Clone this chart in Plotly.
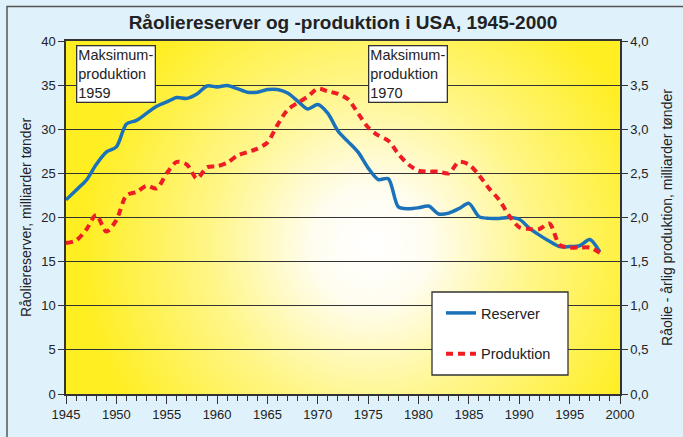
import base64
import plotly.graph_objects as go

# ---- data ----
years = list(range(1945, 1999))
reserver = [22.0, 23.1, 24.2, 26.0, 27.4, 28.0, 30.6, 31.0, 31.8, 32.6,
            33.1, 33.6, 33.5, 34.0, 34.9, 34.8, 34.95, 34.6, 34.2, 34.2,
            34.5, 34.5, 34.1, 33.2, 32.3, 32.8, 31.8, 29.8, 28.6, 27.4,
            25.6, 24.3, 24.4, 21.2, 21.0, 21.1, 21.3, 20.4, 20.5, 21.0,
            21.6, 20.1, 19.9, 19.9, 20.0, 19.8, 18.8, 18.0, 17.3, 16.7,
            16.7, 16.8, 17.5, 16.1]
produktion = [1.71, 1.74, 1.86, 2.03, 1.84, 1.97, 2.25, 2.29, 2.36, 2.33,
              2.50, 2.63, 2.60, 2.44, 2.57, 2.58, 2.62, 2.70, 2.74, 2.78,
              2.85, 3.05, 3.22, 3.30, 3.37, 3.46, 3.43, 3.40, 3.34, 3.18,
              3.02, 2.93, 2.87, 2.72, 2.60, 2.53, 2.52, 2.52, 2.50, 2.63,
              2.60, 2.48, 2.33, 2.20, 2.02, 1.89, 1.87, 1.87, 1.93, 1.69,
              1.66, 1.66, 1.66, 1.60]
x_ticks = list(range(1945, 2001, 5))
left_ticks = list(range(0, 41, 5))
right_ticks = [0, 0.5, 1, 1.5, 2, 2.5, 3, 3.5, 4]

title = "Råoliereserver og -produktion i USA, 1945-2000"
name_res = "Reserver"
name_prod = "Produktion"
ytitle_left = "Råoliereserver, milliarder tønder"
ytitle_right = "Råolie - årlig produktion, milliarder tønder"
note1 = "Maksimum-<br>produktion<br>1959"
note2 = "Maksimum-<br>produktion<br>1970"

FONT = "Liberation Sans, Arial, sans-serif"
DARK = "#333333"
BLUE = "#1a72ba"
RED = "#ee1c25"

W, H = 683, 437
ML, MR, MT, MB = 66, 63, 41, 43
PW, PH = W - ML - MR, H - MT - MB

# radial gradient background for plot area
svg = (
    f"<svg xmlns='http://www.w3.org/2000/svg' width='{PW}' height='{PH}' "
    f"viewBox='0 0 {PW} {PH}' preserveAspectRatio='none'>"
    "<defs><radialGradient id='g' cx='305' cy='205' r='290' gradientUnits='userSpaceOnUse'>"
    "<stop offset='0' stop-color='#ffffff'/>"
    "<stop offset='0.2' stop-color='#fffdf0'/>"
    "<stop offset='0.55' stop-color='#fff68a'/>"
    "<stop offset='1' stop-color='#ffee22'/>"
    "</radialGradient></defs>"
    f"<rect width='{PW}' height='{PH}' fill='url(#g)'/></svg>"
)
svg_uri = "data:image/svg+xml;base64," + base64.b64encode(svg.encode()).decode()

fig = go.Figure()
fig.add_trace(go.Scatter(
    x=years, y=reserver, name=name_res, mode="lines",
    line=dict(color=BLUE, width=3.5, shape="spline", smoothing=0.8),
    legendgroup="a", yaxis="y"))
fig.add_trace(go.Scatter(
    x=years, y=produktion, name=name_prod, mode="lines",
    line=dict(color=RED, width=4, dash="7px,5px", shape="spline", smoothing=0.8),
    legendgroup="b", yaxis="y2"))

def px2paper_x(px):
    return (px - ML) / PW

def px2paper_y(py):
    return (H - MB - py) / PH

fig.update_layout(
    width=W, height=H,
    margin=dict(l=ML, r=MR, t=MT, b=MB, autoexpand=False),
    paper_bgcolor="#dff1fb",
    plot_bgcolor="rgba(0,0,0,0)",
    separators=",.",
    font=dict(family=FONT, size=13, color="#222222"),
    title=dict(text=f"<b>{title}</b>", x=0.5, xref="paper", y=1 - 22 / H,
               yanchor="middle", font=dict(size=19, color="#222222")),
    showlegend=True,
    legend=dict(x=px2paper_x(441), y=px2paper_y(297), xanchor="left", yanchor="top",
                bgcolor="rgba(0,0,0,0)", borderwidth=0, tracegroupgap=19,
                font=dict(size=14.5, color="#222222")),
    xaxis=dict(range=[1945, 2000], tickvals=x_ticks, ticks="outside", ticklen=8,
               tickwidth=1.2, tickcolor=DARK, showline=True, linecolor=DARK,
               linewidth=1.5, mirror=True, showgrid=False, zeroline=False,
               automargin=False,
               minor=dict(dtick=1, ticks="outside", ticklen=5, tickcolor=DARK,
                          tickwidth=1, showgrid=False),
               tickfont=dict(size=13)),
    yaxis=dict(range=[0, 40], tickvals=left_ticks, ticks="outside", ticklen=6,
               tickcolor=DARK, showline=True, linecolor=DARK, linewidth=1.5,
               showgrid=True, gridcolor=DARK, gridwidth=1.3, zeroline=False,
               automargin=False,
               title=dict(text=ytitle_left, font=dict(size=14), standoff=6),
               tickfont=dict(size=13)),
    yaxis2=dict(range=[0, 4], tickvals=right_ticks, tickformat=".1f",
                overlaying="y", side="right", ticks="outside", ticklen=6,
                tickcolor=DARK, showline=True, linecolor=DARK, linewidth=1.5,
                showgrid=False, zeroline=False, automargin=False,
                title=dict(text=ytitle_right, font=dict(size=14), standoff=15),
                tickfont=dict(size=13)),
    images=[dict(source=svg_uri, xref="paper", yref="paper", x=0, y=1,
                 sizex=1, sizey=1, sizing="stretch", layer="below")],
    shapes=[
        # legend box
        dict(type="rect", xref="paper", yref="paper",
             x0=px2paper_x(432), x1=px2paper_x(568),
             y0=px2paper_y(375), y1=px2paper_y(292),
             fillcolor="white", line=dict(color=DARK, width=1.3), layer="above"),
        # outer frame
        dict(type="rect", xref="paper", yref="paper",
             x0=px2paper_x(7), x1=px2paper_x(700),
             y0=px2paper_y(460), y1=px2paper_y(6.5),
             fillcolor="rgba(0,0,0,0)", line=dict(color="#555555", width=1.5)),
    ],
    annotations=[
        dict(text=note1, x=1946, y=39.5, xref="x", yref="y", xanchor="left",
             yanchor="top", align="left", showarrow=False, bgcolor="white",
             bordercolor=DARK, borderwidth=1.3, borderpad=1,
             font=dict(size=14.5, color="#222222")),
        dict(text=note2, x=1975, y=39.5, xref="x", yref="y", xanchor="left",
             yanchor="top", align="left", showarrow=False, bgcolor="white",
             bordercolor=DARK, borderwidth=1.3, borderpad=1,
             font=dict(size=14.5, color="#222222")),
    ],
)

fig.write_html("out.html", config={"displayModeBar": False},
               post_script="document.body.style.margin='0';document.body.style.overflow='hidden';")
